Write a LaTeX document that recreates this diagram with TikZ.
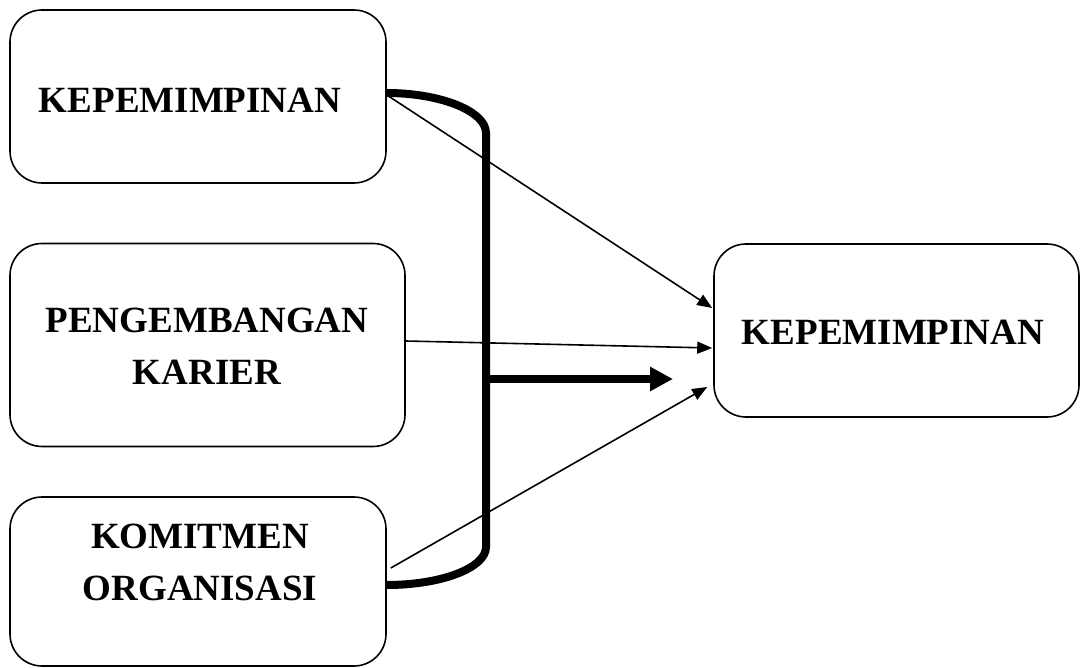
\documentclass[tikz,border=0pt]{standalone}
\usepackage{fontspec}
\setmainfont{Liberation Serif}
\usetikzlibrary{arrows.meta,calc}
\begin{document}
\begin{tikzpicture}[x=1pt,y=-1pt,
  box/.style={draw,line width=1.6pt,rounded corners=32pt,rectangle,inner sep=0pt},
  lbl/.style={inner sep=0pt,align=center,font=\fontsize{37}{52}\selectfont\bfseries},
  thin/.style={line width=1.6pt,-{Triangle[length=15pt,width=12pt]}},
  thick/.style={line width=8pt,line cap=butt}]
\useasboundingbox (0,0) rectangle (1081,668);
\node[box,minimum width=376pt,minimum height=173pt] (b1) at (198,96.5) {};
\node[box,minimum width=395pt,minimum height=203pt] (b2) at (207.5,345) {};
\node[box,minimum width=376pt,minimum height=169pt] (b3) at (198,581.5) {};
\node[box,minimum width=365pt,minimum height=173pt] (b4) at (896.5,330.5) {};
\node[lbl] (t1) at (190,100) {KEPEMIMPINAN};
\node[lbl] (t2) at (207,346.5) {PENGEMBANGAN\\KARIER};
\node[lbl] (t3) at (200,562.5) {KOMITMEN\\ORGANISASI};
\node[lbl] (t4) at (893,332) {KEPEMIMPINAN};
% bracket
\coordinate (btop) at ($(b1.east)+(0,-3.5)$);
\coordinate (bbot) at ($(b3.east)+(0,3.5)$);
\coordinate (bmid) at (486,379);
\draw[thick] (btop) .. controls (440,93) and (486,111) .. (486,133)
  -- (486,547) .. controls (486,568) and (441,585) .. (bbot);
\coordinate (tipm) at (673,379);
\draw[thick,-{Triangle[length=23pt,width=23pt]}] (bmid) -- (tipm);
% thin arrows
\draw[thin] ($(b1.east)+(0,-1.5)$) -- ($(b4.west)+(-1,-22.5)$);
\draw[thin] ($(b2.east)+(0,-4)$) -- ($(b4.west)+(-1,17.5)$);
\draw[thin] ($(b3.east)+(4,-13.5)$) -- ($(b4.west)+(-6,56.5)$);
\end{tikzpicture}
\end{document}
